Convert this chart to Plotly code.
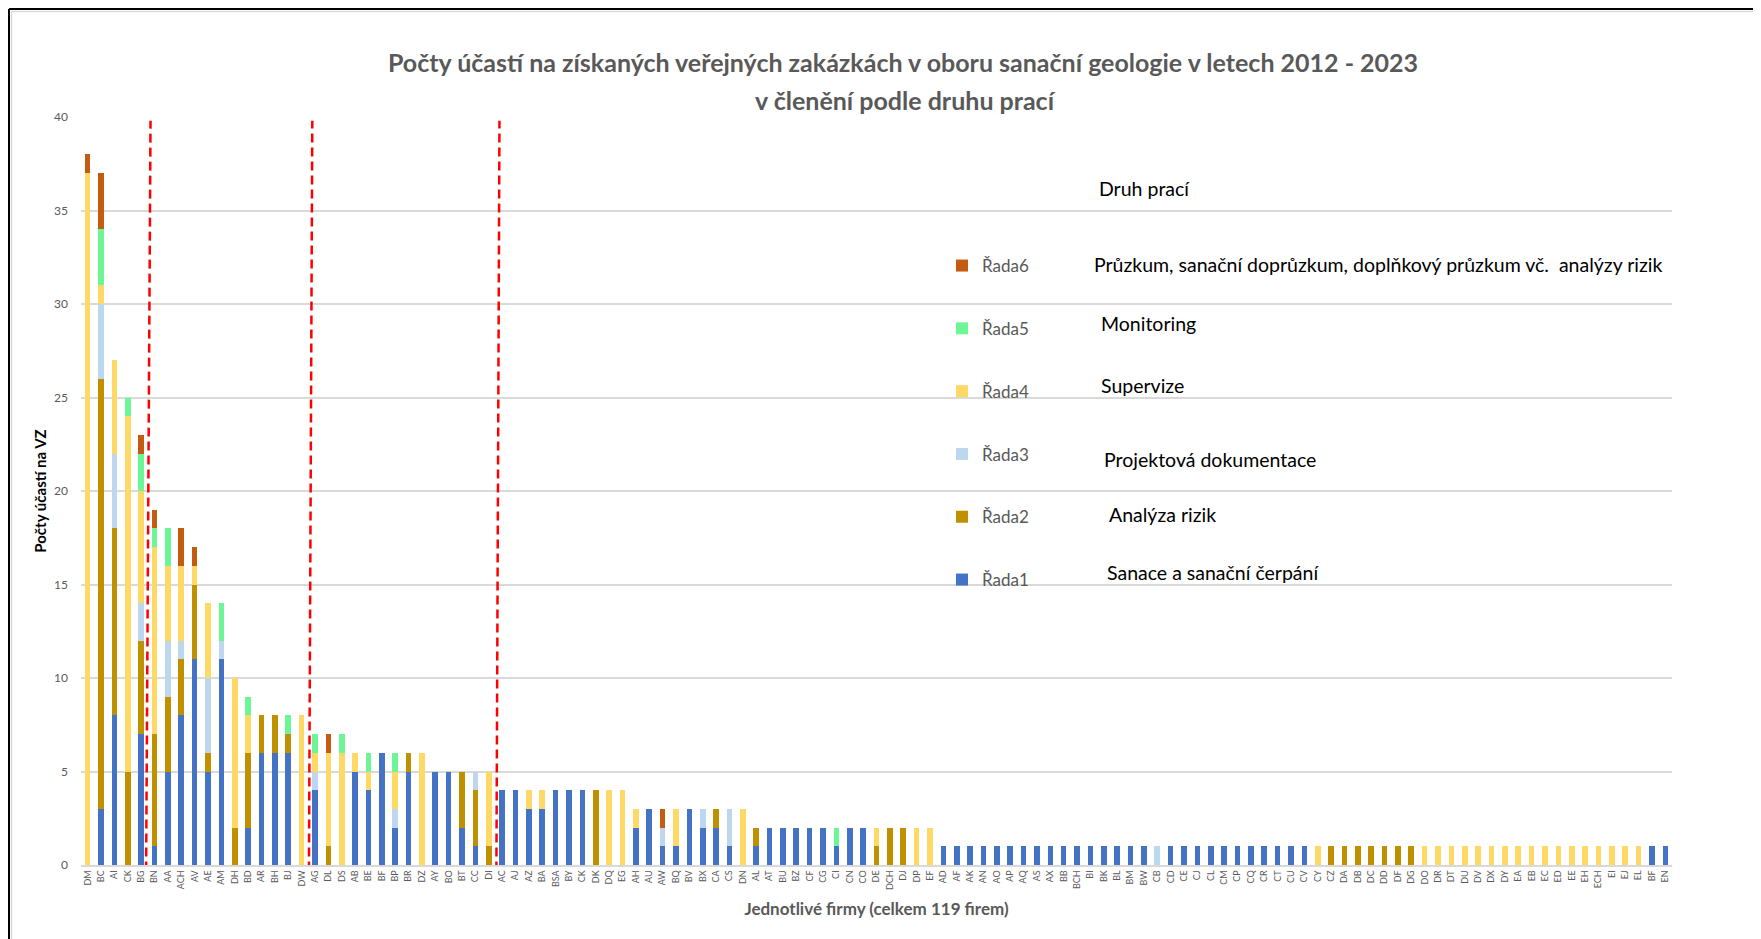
import plotly.graph_objects as go

# ---------------- data ----------------
firms = [
    "DM", "BC", "AI", "CK", "BG",
    "BN", "AA", "ACH", "AV", "AE", "AM", "DH", "BD", "AR", "BH", "BJ", "DW",
    "AG", "DL", "DS", "AB", "BE", "BF", "BP", "BR", "DZ", "AY", "BO", "BT", "CC", "DI",
    "AC", "AJ", "AZ", "BA", "BSA", "BY", "CK", "DK", "DQ", "EG", "AH", "AU", "AW", "BQ", "BV", "BX", "CA", "CS", "DN",
    "AL", "AT", "BU", "BZ", "CF", "CG", "CI", "CN", "CO", "DE", "DCH", "DJ", "DP", "EF",
    "AD", "AF", "AK", "AN", "AO", "AP", "AQ", "AS", "AX", "BB", "BCH", "BI", "BK", "BL", "BM", "BW",
    "CB",
    "CD", "CE", "CJ", "CL", "CM", "CP", "CQ", "CR", "CT", "CU", "CV",
    "CY",
    "CZ", "DA", "DB", "DC", "DD", "DF", "DG",
    "DO", "DR", "DT", "DU", "DV", "DX", "DY", "EA", "EB", "EC", "ED", "EE", "EH", "ECH", "EI", "EJ", "EL",
    "BF", "EN",
]

# Řada1 - Sanace a sanační čerpání
rada1 = [
    0, 3, 8, 0, 7,
    1, 5, 8, 11, 5, 11, 0, 2, 6, 6, 6, 0,
    4, 0, 0, 5, 4, 6, 2, 5, 0, 5, 5, 2, 1, 0,
    4, 4, 3, 3, 4, 4, 4, 0, 0, 0, 2, 3, 1, 1, 3, 2, 2, 1, 0,
    1, 2, 2, 2, 2, 2, 1, 2, 2, 0, 0, 0, 0, 0,
    1, 1, 1, 1, 1, 1, 1, 1, 1, 1, 1, 1, 1, 1, 1, 1,
    0,
    1, 1, 1, 1, 1, 1, 1, 1, 1, 1, 1,
    0,
    0, 0, 0, 0, 0, 0, 0,
    0, 0, 0, 0, 0, 0, 0, 0, 0, 0, 0, 0, 0, 0, 0, 0, 0,
    1, 1,
]
# Řada2 - Analýza rizik
rada2 = [
    0, 23, 10, 5, 5,
    6, 4, 3, 4, 1, 0, 2, 4, 2, 2, 1, 0,
    0, 1, 0, 0, 0, 0, 0, 1, 0, 0, 0, 3, 3, 1,
    0, 0, 0, 0, 0, 0, 0, 4, 0, 0, 0, 0, 0, 0, 0, 0, 1, 0, 0,
    1, 0, 0, 0, 0, 0, 0, 0, 0, 1, 2, 2, 0, 0,
    0, 0, 0, 0, 0, 0, 0, 0, 0, 0, 0, 0, 0, 0, 0, 0,
    0,
    0, 0, 0, 0, 0, 0, 0, 0, 0, 0, 0,
    0,
    1, 1, 1, 1, 1, 1, 1,
    0, 0, 0, 0, 0, 0, 0, 0, 0, 0, 0, 0, 0, 0, 0, 0, 0,
    0, 0,
]
# Řada3 - Projektová dokumentace
rada3 = [
    0, 4, 4, 0, 2,
    0, 3, 1, 0, 4, 1, 0, 0, 0, 0, 0, 0,
    1, 0, 0, 0, 0, 0, 1, 0, 0, 0, 0, 0, 1, 0,
    0, 0, 0, 0, 0, 0, 0, 0, 0, 0, 0, 0, 1, 0, 0, 1, 0, 2, 0,
    0, 0, 0, 0, 0, 0, 0, 0, 0, 0, 0, 0, 0, 0,
    0, 0, 0, 0, 0, 0, 0, 0, 0, 0, 0, 0, 0, 0, 0, 0,
    1,
    0, 0, 0, 0, 0, 0, 0, 0, 0, 0, 0,
    0,
    0, 0, 0, 0, 0, 0, 0,
    0, 0, 0, 0, 0, 0, 0, 0, 0, 0, 0, 0, 0, 0, 0, 0, 0,
    0, 0,
]
# Řada4 - Supervize
rada4 = [
    37, 1, 5, 19, 6,
    10, 4, 4, 1, 4, 0, 8, 2, 0, 0, 0, 8,
    1, 5, 6, 1, 1, 0, 2, 0, 6, 0, 0, 0, 0, 4,
    0, 0, 1, 1, 0, 0, 0, 0, 4, 4, 1, 0, 0, 2, 0, 0, 0, 0, 3,
    0, 0, 0, 0, 0, 0, 0, 0, 0, 1, 0, 0, 2, 2,
    0, 0, 0, 0, 0, 0, 0, 0, 0, 0, 0, 0, 0, 0, 0, 0,
    0,
    0, 0, 0, 0, 0, 0, 0, 0, 0, 0, 0,
    1,
    0, 0, 0, 0, 0, 0, 0,
    1, 1, 1, 1, 1, 1, 1, 1, 1, 1, 1, 1, 1, 1, 1, 1, 1,
    0, 0,
]
# Řada5 - Monitoring
rada5 = [
    0, 3, 0, 1, 2,
    1, 2, 0, 0, 0, 2, 0, 1, 0, 0, 1, 0,
    1, 0, 1, 0, 1, 0, 1, 0, 0, 0, 0, 0, 0, 0,
    0, 0, 0, 0, 0, 0, 0, 0, 0, 0, 0, 0, 0, 0, 0, 0, 0, 0, 0,
    0, 0, 0, 0, 0, 0, 1, 0, 0, 0, 0, 0, 0, 0,
    0, 0, 0, 0, 0, 0, 0, 0, 0, 0, 0, 0, 0, 0, 0, 0,
    0,
    0, 0, 0, 0, 0, 0, 0, 0, 0, 0, 0,
    0,
    0, 0, 0, 0, 0, 0, 0,
    0, 0, 0, 0, 0, 0, 0, 0, 0, 0, 0, 0, 0, 0, 0, 0, 0,
    0, 0,
]
# Řada6 - Průzkum, sanační doprůzkum, ...
rada6 = [
    1, 3, 0, 0, 1,
    1, 0, 2, 1, 0, 0, 0, 0, 0, 0, 0, 0,
    0, 1, 0, 0, 0, 0, 0, 0, 0, 0, 0, 0, 0, 0,
    0, 0, 0, 0, 0, 0, 0, 0, 0, 0, 0, 0, 1, 0, 0, 0, 0, 0, 0,
    0, 0, 0, 0, 0, 0, 0, 0, 0, 0, 0, 0, 0, 0,
    0, 0, 0, 0, 0, 0, 0, 0, 0, 0, 0, 0, 0, 0, 0, 0,
    0,
    0, 0, 0, 0, 0, 0, 0, 0, 0, 0, 0,
    0,
    0, 0, 0, 0, 0, 0, 0,
    0, 0, 0, 0, 0, 0, 0, 0, 0, 0, 0, 0, 0, 0, 0, 0, 0,
    0, 0,
]

series_names = ["Řada1", "Řada2", "Řada3", "Řada4", "Řada5", "Řada6"]
series_desc = [
    "Sanace a sanační čerpání",
    "Analýza rizik",
    "Projektová dokumentace",
    "Supervize",
    "Monitoring",
    "Průzkum, sanační doprůzkum, doplňkový průzkum vč.  analýzy rizik",
]
series_colors = ["#4472C4", "#BF9000", "#BDD7EE", "#FFD966", "#6CF696", "#C55A11"]

title_line1 = "Počty účastí na získaných veřejných zakázkách v oboru sanační geologie v letech 2012 - 2023"
title_line2 = "v členění podle druhu prací"
y_title = "Počty účastí na VZ"
x_title = "Jednotlivé firmy (celkem 119 firem)"
legend_title = "Druh prací"

# boundaries between firm groups (bottom, top positions on the category axis)
group_breaks = [(4.37, 4.70), (16.55, 16.80), (30.57, 30.80)]

for arr in (rada1, rada2, rada3, rada4, rada5, rada6):
    assert len(arr) == len(firms)

# ---------------- figure ----------------
FONT = "Lato, 'Open Sans', 'DejaVu Sans', sans-serif"
OFF = 8                      # browser body margin
W, H = 1761 - OFF, 939 - OFF
ML, MT = 81 - OFF, 117 - OFF
MR = W - (1672 - OFF)
MB = H - (865 - OFF)
PW = W - ML - MR
PH = H - MT - MB


def px_x(page_px):
    return (page_px - OFF - ML) / PW


def px_y(page_py):
    return (H - MB - (page_py - OFF)) / PH


x_idx = list(range(len(firms)))
fig = go.Figure()
n = len(series_names)
for i, (name, vals, col) in enumerate(zip(series_names,
                                          [rada1, rada2, rada3, rada4, rada5, rada6],
                                          series_colors)):
    fig.add_trace(go.Bar(
        x=x_idx, y=vals, name=name, legendgroup=name, legendrank=n - i,
        marker=dict(color=col, line=dict(width=0)),
    ))

shapes = []
for xb, xt in group_breaks:
    shapes.append(dict(type="line", xref="x", yref="y", x0=xb, x1=xt, y0=-0.3, y1=39.8,
                       line=dict(color="#FF0000", width=2.5, dash="9px,5px"), layer="above"))
# outer frame (top and left edge)
shapes.append(dict(type="line", xref="paper", yref="paper", x0=px_x(9), x1=px_x(1800),
                   y0=px_y(9), y1=px_y(9), line=dict(color="#000000", width=2)))
shapes.append(dict(type="line", xref="paper", yref="paper", x0=px_x(9), x1=px_x(9),
                   y0=px_y(9), y1=px_y(1000), line=dict(color="#000000", width=2)))
shapes.append(dict(type="line", xref="paper", yref="paper", x0=px_x(11), x1=px_x(1800),
                   y0=px_y(11.5), y1=px_y(11.5), line=dict(color="#D9D9D9", width=1.5)))
shapes.append(dict(type="line", xref="paper", yref="paper", x0=px_x(11.5), x1=px_x(11.5),
                   y0=px_y(11), y1=px_y(1000), line=dict(color="#D9D9D9", width=1.5)))

annotations = []
desc_pos = [  # (x, y) page px, left/middle anchor, Řada1..Řada6
    (1105, 572), (1107, 514), (1102, 459), (1099, 385), (1099, 323), (1092, 264)
]
for text, (xp, yp) in zip(series_desc, desc_pos):
    annotations.append(dict(text=text, xref="paper", yref="paper", x=px_x(xp), y=px_y(yp),
                            xanchor="left", yanchor="middle", showarrow=False,
                            font=dict(family=FONT, size=19.5, color="#000000")))
annotations.append(dict(text=legend_title, xref="paper", yref="paper", x=px_x(1097), y=px_y(188),
                        xanchor="left", yanchor="middle", showarrow=False,
                        font=dict(family=FONT, size=19.5, color="#000000")))
# second title line
annotations.append(dict(text="<b>" + title_line2 + "</b>", xref="paper", yref="paper",
                        x=px_x(905), y=px_y(100), xanchor="center", yanchor="middle",
                        showarrow=False, font=dict(family=FONT, size=25, color="#595959")))

fig.update_layout(
    width=W, height=H,
    margin=dict(l=ML, r=MR, t=MT, b=MB, autoexpand=False),
    paper_bgcolor="white", plot_bgcolor="white",
    barmode="stack", bargap=0.58,
    title=dict(text="<b>" + title_line1 + "</b>",
               xref="paper", x=px_x(903), xanchor="center",
               yref="container", y=1 - (63 - OFF) / H, yanchor="middle",
               font=dict(family=FONT, size=25, color="#595959")),
    xaxis=dict(
        range=[-0.5, len(firms) - 0.5],
        tickmode="array", tickvals=x_idx, ticktext=firms, tickangle=-90,
        tickfont=dict(family=FONT, size=9, color="#595959"),
        showgrid=False, showline=True, linecolor="#D9D9D9", linewidth=1.5,
        ticks="", zeroline=False, automargin=False,
        title=dict(text="<b>" + x_title + "</b>", standoff=14,
                   font=dict(family=FONT, size=17, color="#595959")),
    ),
    yaxis=dict(
        range=[0, 40], dtick=5, tick0=0,
        tickfont=dict(family=FONT, size=12, color="#595959"),
        showgrid=True, gridcolor="#D9D9D9", gridwidth=1.5,
        showline=False, zeroline=False, ticks="", ticklabelstandoff=12,
        automargin=False,
        title=dict(text="<b>" + y_title + "</b>", standoff=3,
                   font=dict(family=FONT, size=15, color="#000000")),
    ),
    legend=dict(
        x=px_x(942), y=px_y(248), xanchor="left", yanchor="top",
        traceorder="grouped", tracegroupgap=37.7,
        font=dict(family=FONT, size=17, color="#595959"),
        bgcolor="rgba(0,0,0,0)", itemclick=False,
    ),
    shapes=shapes,
    annotations=annotations,
)

fig.write_html("out.html")
